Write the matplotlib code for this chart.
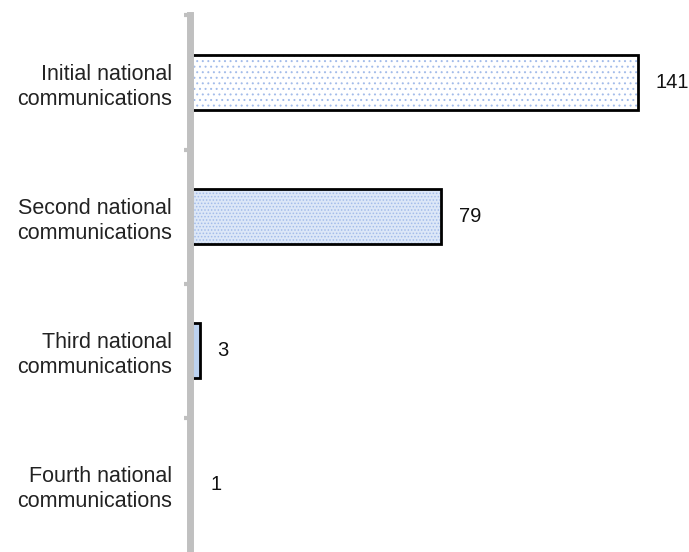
import matplotlib.pyplot as plt
import numpy as np

plt.rcParams['font.family'] = ['Liberation Sans', 'DejaVu Sans']
plt.rcParams['hatch.linewidth'] = 0.7

categories = ['Initial national\ncommunications', 'Second national\ncommunications',
              'Third national\ncommunications', 'Fourth national\ncommunications']
values = [141, 79, 3, 1]

# fill styles per bar (face, hatch density)
faces = ['#ffffff', '#dce7f7', '#bcd2f0', '#bcd2f0']
hatches = ['...', '.....', None, None]

fig = plt.figure(figsize=(6.89, 5.52), dpi=100)
ax = fig.add_axes([0.276, 0.0, 0.724, 0.972])

y = np.arange(len(categories))
for i, (v, fc, h) in enumerate(zip(values, faces, hatches)):
    ax.barh(y[i], v, height=0.41, color=fc, hatch=h, edgecolor='#a3bcea', linewidth=0)
    # a bar narrower than the axis line disappears behind it
    ax.barh(y[i], v, height=0.41, fill=False, edgecolor='black', linewidth=2 if v > 2 else 0)
    ax.text(v + 5.5, y[i], str(v), va='center', ha='left', fontsize=14.5, color='#111111')

ax.set_ylim(3.5, -0.5)
ax.set_xlim(0, 157)
ax.set_yticks(y)
ax.set_yticklabels(categories, fontsize=15.5, linespacing=1.25, color='#222222')
ax.tick_params(axis='y', length=0, pad=13)
# small boundary ticks between categories (bottom one runs off the figure)
ax.set_yticks(np.arange(-0.5, 3.0, 1.0), minor=True)
ax.tick_params(axis='y', which='minor', length=4.5, width=3, color='#c0c0c0', direction='out')
ax.set_xticks([])

for s in ['top', 'right', 'bottom']:
    ax.spines[s].set_visible(False)
ax.spines['left'].set_color('#c0c0c0')
ax.spines['left'].set_linewidth(5)
ax.spines['left'].set_zorder(5)

fig.savefig('out.png', dpi=100)
